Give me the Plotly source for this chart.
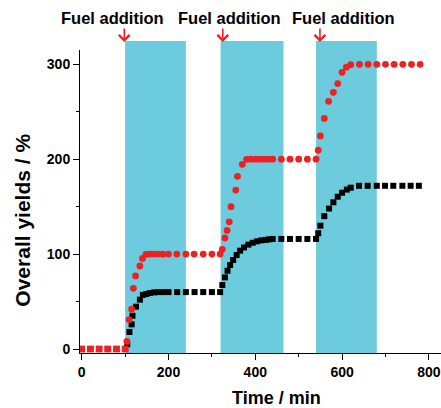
import plotly.graph_objects as go

# ---- data ----
t_red = [0, 20, 40, 60, 80, 100,
         104, 109, 115, 119, 124, 134, 140, 148, 157, 167, 177, 187, 200, 219, 240, 259, 280, 300,
         319, 324, 330, 335, 340, 344, 355, 359, 370, 380, 390, 400, 410, 420, 430, 440, 460, 480, 500, 520, 540,
         545, 550, 559, 569, 580, 590, 600, 610, 620, 640, 660, 680, 700, 720, 740, 760, 780]
y_red = [0, 0, 0, 0, 0, 0,
         8, 31, 42, 64, 77, 87.5, 95.5, 99.8, 100, 100, 100, 100, 100, 100, 100, 100, 100, 100,
         100, 105, 117, 125, 134, 150, 167.5, 182, 194.6, 199.9, 200, 200, 200, 200, 200, 200, 200, 200, 200, 200, 200,
         209.5, 224.5, 243, 261, 270.5, 279.7, 291.6, 297, 299.6, 300, 300, 300, 300, 300, 300, 300, 300]

t_blk = [0, 20, 40, 60, 80, 100,
         105, 110, 115, 117, 125, 134, 141, 149, 157, 167, 177, 188, 200, 220, 240, 260, 280, 300,
         319, 324, 330, 336, 342, 349, 357, 365, 374, 384, 394, 404, 414, 424, 432, 440, 460, 480, 500, 520, 540,
         545, 550, 559, 570, 580, 590, 600, 611, 620, 639, 659, 680, 699, 718, 739, 758, 777]
y_blk = [0, 0, 0, 0, 0, 0,
         5, 18, 26, 35, 44.6, 52, 57, 58, 59, 59.7, 60, 60, 60, 60, 60, 60, 60, 60,
         60, 67.4, 75.5, 82.5, 88.5, 93.8, 99, 103.6, 107, 110, 112, 113.5, 114.5, 115, 115.6, 116, 116, 116, 116, 116, 116,
         122, 130, 140, 148, 154.6, 160.5, 164.7, 168, 170, 172, 172, 172, 172, 172, 172, 172, 172]

heat_start = [100, 320, 540]
heat_end = [240, 465, 680]
fuel_times = [98, 325, 549]
fuel_label = "Fuel addition"
x_ticks = [0, 200, 400, 600, 800]
y_ticks = [0, 100, 200, 300]

RED = "#ee2024"
CYAN = "#6ccbdc"
FONT = "Liberation Sans, Arial, sans-serif"

fig = go.Figure()

fig.add_trace(go.Scatter(
    x=t_blk, y=y_blk, mode="markers",
    marker=dict(symbol="square", size=6, color="black"),
    showlegend=False))

red_symbols = ["square" if t <= heat_start[0] else "circle" for t in t_red]
fig.add_trace(go.Scatter(
    x=t_red, y=y_red, mode="markers",
    marker=dict(symbol=red_symbols, size=6.8, color=RED, line=dict(width=0)),
    showlegend=False))

for s, e in zip(heat_start, heat_end):
    fig.add_shape(type="rect", xref="x", yref="paper", x0=s, x1=e, y0=0, y1=1.03,
                  fillcolor=CYAN, line=dict(width=0), layer="below")

label_shift = [-12, 7, 24]
for t, sh in zip(fuel_times, label_shift):
    fig.add_annotation(x=t, y=1.0264, xref="x", yref="paper", text="",
                       showarrow=True, ax=0, ay=-15, arrowhead=4, arrowsize=1.3,
                       arrowwidth=1.6, arrowcolor=RED)
    fig.add_annotation(x=t, y=1.1056, xref="x", yref="paper", text=fuel_label,
                       showarrow=False, xshift=sh, xanchor="center", yanchor="middle",
                       font=dict(family=FONT, size=16.5, color="black", weight="bold"))

fig.add_annotation(x=0.545, y=-0.150, xref="paper", yref="paper", text="Time / min",
                   showarrow=False, xanchor="center", yanchor="middle",
                   font=dict(family=FONT, size=18, color="black", weight="bold"))
fig.add_annotation(x=-0.158, y=0.440, xref="paper", yref="paper", text="Overall yields / %",
                   showarrow=False, textangle=-90, xanchor="center", yanchor="middle",
                   font=dict(family=FONT, size=21, color="black", weight="bold"))

axis_common = dict(showgrid=False, zeroline=False, showline=True, linecolor="black",
                   linewidth=1, ticks="outside", ticklen=6, tickwidth=1, tickcolor="black",
                   tickfont=dict(family=FONT, size=14, color="black", weight="bold"))

fig.update_xaxes(range=[-4, 828], tickvals=x_ticks,
                 minor=dict(ticks="outside", ticklen=3, dtick=100, tick0=0, tickcolor="black"),
                 **axis_common)
fig.update_yaxes(range=[-4.2, 315.1], tickvals=y_ticks,
                 minor=dict(ticks="outside", ticklen=3, dtick=50, tick0=0, tickcolor="black"),
                 **axis_common)

fig.update_layout(width=441, height=408, margin=dict(l=80, r=0, t=50, b=55),
                  plot_bgcolor="white", paper_bgcolor="white", showlegend=False)

fig.write_html("out.html", config={"displayModeBar": False},
               post_script="document.body.style.margin='0';")
